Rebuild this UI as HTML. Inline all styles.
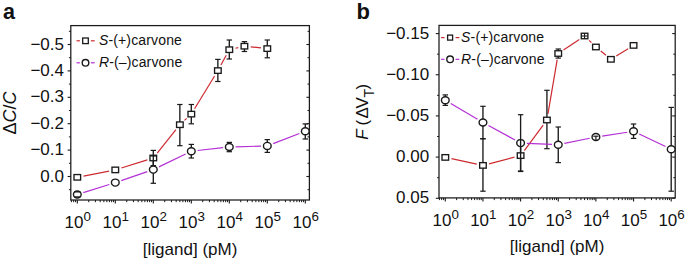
<!DOCTYPE html>
<html><head><meta charset="utf-8"><style>
html,body{margin:0;padding:0;background:#fff;}
svg{display:block;}
text{font-family:"Liberation Sans",sans-serif;fill:#111;}
.tk{font-size:17px;}
.sup{font-size:13.4px;}
.sub{font-size:11.5px;}
.lg{font-size:14px;letter-spacing:0.15px;}
.pl{font-size:22px;font-weight:bold;}
</style></head><body>
<svg width="685" height="259" viewBox="0 0 685 259">
<rect width="685" height="259" fill="#fff"/>
<rect x="70.8" y="25.6" width="238.60" height="174.40" fill="none" stroke="#1a1a1a" stroke-width="1.25"/>
<line x1="68.89999999999999" y1="31.30" x2="70.8" y2="31.30" stroke="#1a1a1a" stroke-width="1"/>
<line x1="309.4" y1="31.30" x2="307.5" y2="31.30" stroke="#1a1a1a" stroke-width="1"/>
<line x1="68.89999999999999" y1="57.70" x2="70.8" y2="57.70" stroke="#1a1a1a" stroke-width="1"/>
<line x1="309.4" y1="57.70" x2="307.5" y2="57.70" stroke="#1a1a1a" stroke-width="1"/>
<line x1="68.89999999999999" y1="84.10" x2="70.8" y2="84.10" stroke="#1a1a1a" stroke-width="1"/>
<line x1="309.4" y1="84.10" x2="307.5" y2="84.10" stroke="#1a1a1a" stroke-width="1"/>
<line x1="68.89999999999999" y1="110.50" x2="70.8" y2="110.50" stroke="#1a1a1a" stroke-width="1"/>
<line x1="309.4" y1="110.50" x2="307.5" y2="110.50" stroke="#1a1a1a" stroke-width="1"/>
<line x1="68.89999999999999" y1="136.90" x2="70.8" y2="136.90" stroke="#1a1a1a" stroke-width="1"/>
<line x1="309.4" y1="136.90" x2="307.5" y2="136.90" stroke="#1a1a1a" stroke-width="1"/>
<line x1="68.89999999999999" y1="163.30" x2="70.8" y2="163.30" stroke="#1a1a1a" stroke-width="1"/>
<line x1="309.4" y1="163.30" x2="307.5" y2="163.30" stroke="#1a1a1a" stroke-width="1"/>
<line x1="68.89999999999999" y1="189.70" x2="70.8" y2="189.70" stroke="#1a1a1a" stroke-width="1"/>
<line x1="309.4" y1="189.70" x2="307.5" y2="189.70" stroke="#1a1a1a" stroke-width="1"/>
<line x1="67.6" y1="44.50" x2="70.8" y2="44.50" stroke="#1a1a1a" stroke-width="1.1"/>
<line x1="309.4" y1="44.50" x2="306.4" y2="44.50" stroke="#1a1a1a" stroke-width="1.1"/>
<text x="64.0" y="49.50" text-anchor="end" class="tk">−0.5</text>
<line x1="67.6" y1="70.90" x2="70.8" y2="70.90" stroke="#1a1a1a" stroke-width="1.1"/>
<line x1="309.4" y1="70.90" x2="306.4" y2="70.90" stroke="#1a1a1a" stroke-width="1.1"/>
<text x="64.0" y="75.90" text-anchor="end" class="tk">−0.4</text>
<line x1="67.6" y1="97.30" x2="70.8" y2="97.30" stroke="#1a1a1a" stroke-width="1.1"/>
<line x1="309.4" y1="97.30" x2="306.4" y2="97.30" stroke="#1a1a1a" stroke-width="1.1"/>
<text x="64.0" y="102.30" text-anchor="end" class="tk">−0.3</text>
<line x1="67.6" y1="123.70" x2="70.8" y2="123.70" stroke="#1a1a1a" stroke-width="1.1"/>
<line x1="309.4" y1="123.70" x2="306.4" y2="123.70" stroke="#1a1a1a" stroke-width="1.1"/>
<text x="64.0" y="128.70" text-anchor="end" class="tk">−0.2</text>
<line x1="67.6" y1="150.10" x2="70.8" y2="150.10" stroke="#1a1a1a" stroke-width="1.1"/>
<line x1="309.4" y1="150.10" x2="306.4" y2="150.10" stroke="#1a1a1a" stroke-width="1.1"/>
<text x="64.0" y="155.10" text-anchor="end" class="tk">−0.1</text>
<line x1="67.6" y1="176.50" x2="70.8" y2="176.50" stroke="#1a1a1a" stroke-width="1.1"/>
<line x1="309.4" y1="176.50" x2="306.4" y2="176.50" stroke="#1a1a1a" stroke-width="1.1"/>
<text x="64.0" y="181.50" text-anchor="end" class="tk">0.0</text>
<line x1="71.41" y1="200.0" x2="71.41" y2="202.2" stroke="#1a1a1a" stroke-width="1"/>
<line x1="73.62" y1="200.0" x2="73.62" y2="202.2" stroke="#1a1a1a" stroke-width="1"/>
<line x1="75.56" y1="200.0" x2="75.56" y2="202.2" stroke="#1a1a1a" stroke-width="1"/>
<line x1="77.30" y1="200.0" x2="77.30" y2="203.6" stroke="#1a1a1a" stroke-width="1.1"/>
<line x1="88.74" y1="200.0" x2="88.74" y2="202.2" stroke="#1a1a1a" stroke-width="1"/>
<line x1="95.43" y1="200.0" x2="95.43" y2="202.2" stroke="#1a1a1a" stroke-width="1"/>
<line x1="100.18" y1="200.0" x2="100.18" y2="202.2" stroke="#1a1a1a" stroke-width="1"/>
<line x1="103.86" y1="200.0" x2="103.86" y2="202.2" stroke="#1a1a1a" stroke-width="1"/>
<line x1="106.87" y1="200.0" x2="106.87" y2="202.2" stroke="#1a1a1a" stroke-width="1"/>
<line x1="109.41" y1="200.0" x2="109.41" y2="202.2" stroke="#1a1a1a" stroke-width="1"/>
<line x1="111.62" y1="200.0" x2="111.62" y2="202.2" stroke="#1a1a1a" stroke-width="1"/>
<line x1="113.56" y1="200.0" x2="113.56" y2="202.2" stroke="#1a1a1a" stroke-width="1"/>
<line x1="115.30" y1="200.0" x2="115.30" y2="203.6" stroke="#1a1a1a" stroke-width="1.1"/>
<line x1="126.74" y1="200.0" x2="126.74" y2="202.2" stroke="#1a1a1a" stroke-width="1"/>
<line x1="133.43" y1="200.0" x2="133.43" y2="202.2" stroke="#1a1a1a" stroke-width="1"/>
<line x1="138.18" y1="200.0" x2="138.18" y2="202.2" stroke="#1a1a1a" stroke-width="1"/>
<line x1="141.86" y1="200.0" x2="141.86" y2="202.2" stroke="#1a1a1a" stroke-width="1"/>
<line x1="144.87" y1="200.0" x2="144.87" y2="202.2" stroke="#1a1a1a" stroke-width="1"/>
<line x1="147.41" y1="200.0" x2="147.41" y2="202.2" stroke="#1a1a1a" stroke-width="1"/>
<line x1="149.62" y1="200.0" x2="149.62" y2="202.2" stroke="#1a1a1a" stroke-width="1"/>
<line x1="151.56" y1="200.0" x2="151.56" y2="202.2" stroke="#1a1a1a" stroke-width="1"/>
<line x1="153.30" y1="200.0" x2="153.30" y2="203.6" stroke="#1a1a1a" stroke-width="1.1"/>
<line x1="164.74" y1="200.0" x2="164.74" y2="202.2" stroke="#1a1a1a" stroke-width="1"/>
<line x1="171.43" y1="200.0" x2="171.43" y2="202.2" stroke="#1a1a1a" stroke-width="1"/>
<line x1="176.18" y1="200.0" x2="176.18" y2="202.2" stroke="#1a1a1a" stroke-width="1"/>
<line x1="179.86" y1="200.0" x2="179.86" y2="202.2" stroke="#1a1a1a" stroke-width="1"/>
<line x1="182.87" y1="200.0" x2="182.87" y2="202.2" stroke="#1a1a1a" stroke-width="1"/>
<line x1="185.41" y1="200.0" x2="185.41" y2="202.2" stroke="#1a1a1a" stroke-width="1"/>
<line x1="187.62" y1="200.0" x2="187.62" y2="202.2" stroke="#1a1a1a" stroke-width="1"/>
<line x1="189.56" y1="200.0" x2="189.56" y2="202.2" stroke="#1a1a1a" stroke-width="1"/>
<line x1="191.30" y1="200.0" x2="191.30" y2="203.6" stroke="#1a1a1a" stroke-width="1.1"/>
<line x1="202.74" y1="200.0" x2="202.74" y2="202.2" stroke="#1a1a1a" stroke-width="1"/>
<line x1="209.43" y1="200.0" x2="209.43" y2="202.2" stroke="#1a1a1a" stroke-width="1"/>
<line x1="214.18" y1="200.0" x2="214.18" y2="202.2" stroke="#1a1a1a" stroke-width="1"/>
<line x1="217.86" y1="200.0" x2="217.86" y2="202.2" stroke="#1a1a1a" stroke-width="1"/>
<line x1="220.87" y1="200.0" x2="220.87" y2="202.2" stroke="#1a1a1a" stroke-width="1"/>
<line x1="223.41" y1="200.0" x2="223.41" y2="202.2" stroke="#1a1a1a" stroke-width="1"/>
<line x1="225.62" y1="200.0" x2="225.62" y2="202.2" stroke="#1a1a1a" stroke-width="1"/>
<line x1="227.56" y1="200.0" x2="227.56" y2="202.2" stroke="#1a1a1a" stroke-width="1"/>
<line x1="229.30" y1="200.0" x2="229.30" y2="203.6" stroke="#1a1a1a" stroke-width="1.1"/>
<line x1="240.74" y1="200.0" x2="240.74" y2="202.2" stroke="#1a1a1a" stroke-width="1"/>
<line x1="247.43" y1="200.0" x2="247.43" y2="202.2" stroke="#1a1a1a" stroke-width="1"/>
<line x1="252.18" y1="200.0" x2="252.18" y2="202.2" stroke="#1a1a1a" stroke-width="1"/>
<line x1="255.86" y1="200.0" x2="255.86" y2="202.2" stroke="#1a1a1a" stroke-width="1"/>
<line x1="258.87" y1="200.0" x2="258.87" y2="202.2" stroke="#1a1a1a" stroke-width="1"/>
<line x1="261.41" y1="200.0" x2="261.41" y2="202.2" stroke="#1a1a1a" stroke-width="1"/>
<line x1="263.62" y1="200.0" x2="263.62" y2="202.2" stroke="#1a1a1a" stroke-width="1"/>
<line x1="265.56" y1="200.0" x2="265.56" y2="202.2" stroke="#1a1a1a" stroke-width="1"/>
<line x1="267.30" y1="200.0" x2="267.30" y2="203.6" stroke="#1a1a1a" stroke-width="1.1"/>
<line x1="278.74" y1="200.0" x2="278.74" y2="202.2" stroke="#1a1a1a" stroke-width="1"/>
<line x1="285.43" y1="200.0" x2="285.43" y2="202.2" stroke="#1a1a1a" stroke-width="1"/>
<line x1="290.18" y1="200.0" x2="290.18" y2="202.2" stroke="#1a1a1a" stroke-width="1"/>
<line x1="293.86" y1="200.0" x2="293.86" y2="202.2" stroke="#1a1a1a" stroke-width="1"/>
<line x1="296.87" y1="200.0" x2="296.87" y2="202.2" stroke="#1a1a1a" stroke-width="1"/>
<line x1="299.41" y1="200.0" x2="299.41" y2="202.2" stroke="#1a1a1a" stroke-width="1"/>
<line x1="301.62" y1="200.0" x2="301.62" y2="202.2" stroke="#1a1a1a" stroke-width="1"/>
<line x1="303.56" y1="200.0" x2="303.56" y2="202.2" stroke="#1a1a1a" stroke-width="1"/>
<line x1="305.30" y1="200.0" x2="305.30" y2="203.6" stroke="#1a1a1a" stroke-width="1.1"/>
<text x="77.70" y="227.8" text-anchor="middle" class="tk">10<tspan dy="-6.8" class="sup">0</tspan></text>
<text x="115.70" y="227.8" text-anchor="middle" class="tk">10<tspan dy="-6.8" class="sup">1</tspan></text>
<text x="153.70" y="227.8" text-anchor="middle" class="tk">10<tspan dy="-6.8" class="sup">2</tspan></text>
<text x="191.70" y="227.8" text-anchor="middle" class="tk">10<tspan dy="-6.8" class="sup">3</tspan></text>
<text x="229.70" y="227.8" text-anchor="middle" class="tk">10<tspan dy="-6.8" class="sup">4</tspan></text>
<text x="267.70" y="227.8" text-anchor="middle" class="tk">10<tspan dy="-6.8" class="sup">5</tspan></text>
<text x="305.70" y="227.8" text-anchor="middle" class="tk">10<tspan dy="-6.8" class="sup">6</tspan></text>
<text x="190.10" y="254.9" text-anchor="middle" class="tk">[ligand] (pM)</text>
<rect x="439.0" y="25.4" width="236.20" height="172.50" fill="none" stroke="#1a1a1a" stroke-width="1.25"/>
<line x1="437.1" y1="54.16" x2="439.0" y2="54.16" stroke="#1a1a1a" stroke-width="1"/>
<line x1="675.2" y1="54.16" x2="673.3000000000001" y2="54.16" stroke="#1a1a1a" stroke-width="1"/>
<line x1="437.1" y1="95.34" x2="439.0" y2="95.34" stroke="#1a1a1a" stroke-width="1"/>
<line x1="675.2" y1="95.34" x2="673.3000000000001" y2="95.34" stroke="#1a1a1a" stroke-width="1"/>
<line x1="437.1" y1="136.51" x2="439.0" y2="136.51" stroke="#1a1a1a" stroke-width="1"/>
<line x1="675.2" y1="136.51" x2="673.3000000000001" y2="136.51" stroke="#1a1a1a" stroke-width="1"/>
<line x1="437.1" y1="177.69" x2="439.0" y2="177.69" stroke="#1a1a1a" stroke-width="1"/>
<line x1="675.2" y1="177.69" x2="673.3000000000001" y2="177.69" stroke="#1a1a1a" stroke-width="1"/>
<line x1="435.8" y1="33.58" x2="439.0" y2="33.58" stroke="#1a1a1a" stroke-width="1.1"/>
<line x1="675.2" y1="33.58" x2="672.2" y2="33.58" stroke="#1a1a1a" stroke-width="1.1"/>
<text x="429.2" y="38.58" text-anchor="end" class="tk">−0.15</text>
<line x1="435.8" y1="74.75" x2="439.0" y2="74.75" stroke="#1a1a1a" stroke-width="1.1"/>
<line x1="675.2" y1="74.75" x2="672.2" y2="74.75" stroke="#1a1a1a" stroke-width="1.1"/>
<text x="429.2" y="79.75" text-anchor="end" class="tk">−0.10</text>
<line x1="435.8" y1="115.92" x2="439.0" y2="115.92" stroke="#1a1a1a" stroke-width="1.1"/>
<line x1="675.2" y1="115.92" x2="672.2" y2="115.92" stroke="#1a1a1a" stroke-width="1.1"/>
<text x="429.2" y="120.92" text-anchor="end" class="tk">−0.05</text>
<line x1="435.8" y1="157.10" x2="439.0" y2="157.10" stroke="#1a1a1a" stroke-width="1.1"/>
<line x1="675.2" y1="157.10" x2="672.2" y2="157.10" stroke="#1a1a1a" stroke-width="1.1"/>
<text x="429.2" y="162.10" text-anchor="end" class="tk">0.00</text>
<line x1="435.8" y1="198.28" x2="439.0" y2="198.28" stroke="#1a1a1a" stroke-width="1.1"/>
<line x1="675.2" y1="198.28" x2="672.2" y2="198.28" stroke="#1a1a1a" stroke-width="1.1"/>
<text x="429.2" y="203.28" text-anchor="end" class="tk">0.05</text>
<line x1="439.47" y1="197.9" x2="439.47" y2="200.1" stroke="#1a1a1a" stroke-width="1"/>
<line x1="441.65" y1="197.9" x2="441.65" y2="200.1" stroke="#1a1a1a" stroke-width="1"/>
<line x1="443.58" y1="197.9" x2="443.58" y2="200.1" stroke="#1a1a1a" stroke-width="1"/>
<line x1="445.30" y1="197.9" x2="445.30" y2="201.5" stroke="#1a1a1a" stroke-width="1.1"/>
<line x1="456.63" y1="197.9" x2="456.63" y2="200.1" stroke="#1a1a1a" stroke-width="1"/>
<line x1="463.26" y1="197.9" x2="463.26" y2="200.1" stroke="#1a1a1a" stroke-width="1"/>
<line x1="467.97" y1="197.9" x2="467.97" y2="200.1" stroke="#1a1a1a" stroke-width="1"/>
<line x1="471.62" y1="197.9" x2="471.62" y2="200.1" stroke="#1a1a1a" stroke-width="1"/>
<line x1="474.60" y1="197.9" x2="474.60" y2="200.1" stroke="#1a1a1a" stroke-width="1"/>
<line x1="477.12" y1="197.9" x2="477.12" y2="200.1" stroke="#1a1a1a" stroke-width="1"/>
<line x1="479.30" y1="197.9" x2="479.30" y2="200.1" stroke="#1a1a1a" stroke-width="1"/>
<line x1="481.23" y1="197.9" x2="481.23" y2="200.1" stroke="#1a1a1a" stroke-width="1"/>
<line x1="482.95" y1="197.9" x2="482.95" y2="201.5" stroke="#1a1a1a" stroke-width="1.1"/>
<line x1="494.28" y1="197.9" x2="494.28" y2="200.1" stroke="#1a1a1a" stroke-width="1"/>
<line x1="500.91" y1="197.9" x2="500.91" y2="200.1" stroke="#1a1a1a" stroke-width="1"/>
<line x1="505.62" y1="197.9" x2="505.62" y2="200.1" stroke="#1a1a1a" stroke-width="1"/>
<line x1="509.27" y1="197.9" x2="509.27" y2="200.1" stroke="#1a1a1a" stroke-width="1"/>
<line x1="512.25" y1="197.9" x2="512.25" y2="200.1" stroke="#1a1a1a" stroke-width="1"/>
<line x1="514.77" y1="197.9" x2="514.77" y2="200.1" stroke="#1a1a1a" stroke-width="1"/>
<line x1="516.95" y1="197.9" x2="516.95" y2="200.1" stroke="#1a1a1a" stroke-width="1"/>
<line x1="518.88" y1="197.9" x2="518.88" y2="200.1" stroke="#1a1a1a" stroke-width="1"/>
<line x1="520.60" y1="197.9" x2="520.60" y2="201.5" stroke="#1a1a1a" stroke-width="1.1"/>
<line x1="531.93" y1="197.9" x2="531.93" y2="200.1" stroke="#1a1a1a" stroke-width="1"/>
<line x1="538.56" y1="197.9" x2="538.56" y2="200.1" stroke="#1a1a1a" stroke-width="1"/>
<line x1="543.27" y1="197.9" x2="543.27" y2="200.1" stroke="#1a1a1a" stroke-width="1"/>
<line x1="546.92" y1="197.9" x2="546.92" y2="200.1" stroke="#1a1a1a" stroke-width="1"/>
<line x1="549.90" y1="197.9" x2="549.90" y2="200.1" stroke="#1a1a1a" stroke-width="1"/>
<line x1="552.42" y1="197.9" x2="552.42" y2="200.1" stroke="#1a1a1a" stroke-width="1"/>
<line x1="554.60" y1="197.9" x2="554.60" y2="200.1" stroke="#1a1a1a" stroke-width="1"/>
<line x1="556.53" y1="197.9" x2="556.53" y2="200.1" stroke="#1a1a1a" stroke-width="1"/>
<line x1="558.25" y1="197.9" x2="558.25" y2="201.5" stroke="#1a1a1a" stroke-width="1.1"/>
<line x1="569.58" y1="197.9" x2="569.58" y2="200.1" stroke="#1a1a1a" stroke-width="1"/>
<line x1="576.21" y1="197.9" x2="576.21" y2="200.1" stroke="#1a1a1a" stroke-width="1"/>
<line x1="580.92" y1="197.9" x2="580.92" y2="200.1" stroke="#1a1a1a" stroke-width="1"/>
<line x1="584.57" y1="197.9" x2="584.57" y2="200.1" stroke="#1a1a1a" stroke-width="1"/>
<line x1="587.55" y1="197.9" x2="587.55" y2="200.1" stroke="#1a1a1a" stroke-width="1"/>
<line x1="590.07" y1="197.9" x2="590.07" y2="200.1" stroke="#1a1a1a" stroke-width="1"/>
<line x1="592.25" y1="197.9" x2="592.25" y2="200.1" stroke="#1a1a1a" stroke-width="1"/>
<line x1="594.18" y1="197.9" x2="594.18" y2="200.1" stroke="#1a1a1a" stroke-width="1"/>
<line x1="595.90" y1="197.9" x2="595.90" y2="201.5" stroke="#1a1a1a" stroke-width="1.1"/>
<line x1="607.23" y1="197.9" x2="607.23" y2="200.1" stroke="#1a1a1a" stroke-width="1"/>
<line x1="613.86" y1="197.9" x2="613.86" y2="200.1" stroke="#1a1a1a" stroke-width="1"/>
<line x1="618.57" y1="197.9" x2="618.57" y2="200.1" stroke="#1a1a1a" stroke-width="1"/>
<line x1="622.22" y1="197.9" x2="622.22" y2="200.1" stroke="#1a1a1a" stroke-width="1"/>
<line x1="625.20" y1="197.9" x2="625.20" y2="200.1" stroke="#1a1a1a" stroke-width="1"/>
<line x1="627.72" y1="197.9" x2="627.72" y2="200.1" stroke="#1a1a1a" stroke-width="1"/>
<line x1="629.90" y1="197.9" x2="629.90" y2="200.1" stroke="#1a1a1a" stroke-width="1"/>
<line x1="631.83" y1="197.9" x2="631.83" y2="200.1" stroke="#1a1a1a" stroke-width="1"/>
<line x1="633.55" y1="197.9" x2="633.55" y2="201.5" stroke="#1a1a1a" stroke-width="1.1"/>
<line x1="644.88" y1="197.9" x2="644.88" y2="200.1" stroke="#1a1a1a" stroke-width="1"/>
<line x1="651.51" y1="197.9" x2="651.51" y2="200.1" stroke="#1a1a1a" stroke-width="1"/>
<line x1="656.22" y1="197.9" x2="656.22" y2="200.1" stroke="#1a1a1a" stroke-width="1"/>
<line x1="659.87" y1="197.9" x2="659.87" y2="200.1" stroke="#1a1a1a" stroke-width="1"/>
<line x1="662.85" y1="197.9" x2="662.85" y2="200.1" stroke="#1a1a1a" stroke-width="1"/>
<line x1="665.37" y1="197.9" x2="665.37" y2="200.1" stroke="#1a1a1a" stroke-width="1"/>
<line x1="667.55" y1="197.9" x2="667.55" y2="200.1" stroke="#1a1a1a" stroke-width="1"/>
<line x1="669.48" y1="197.9" x2="669.48" y2="200.1" stroke="#1a1a1a" stroke-width="1"/>
<line x1="671.20" y1="197.9" x2="671.20" y2="201.5" stroke="#1a1a1a" stroke-width="1.1"/>
<text x="445.70" y="225.6" text-anchor="middle" class="tk">10<tspan dy="-6.8" class="sup">0</tspan></text>
<text x="483.35" y="225.6" text-anchor="middle" class="tk">10<tspan dy="-6.8" class="sup">1</tspan></text>
<text x="521.00" y="225.6" text-anchor="middle" class="tk">10<tspan dy="-6.8" class="sup">2</tspan></text>
<text x="558.65" y="225.6" text-anchor="middle" class="tk">10<tspan dy="-6.8" class="sup">3</tspan></text>
<text x="596.30" y="225.6" text-anchor="middle" class="tk">10<tspan dy="-6.8" class="sup">4</tspan></text>
<text x="633.95" y="225.6" text-anchor="middle" class="tk">10<tspan dy="-6.8" class="sup">5</tspan></text>
<text x="671.60" y="225.6" text-anchor="middle" class="tk">10<tspan dy="-6.8" class="sup">6</tspan></text>
<text x="557.10" y="252.4" text-anchor="middle" class="tk">[ligand] (pM)</text>
<line x1="83.48" y1="176.10" x2="109.12" y2="171.10" stroke="#cc2a30" stroke-width="1.2"/>
<line x1="121.31" y1="168.02" x2="147.29" y2="159.88" stroke="#cc2a30" stroke-width="1.2"/>
<line x1="157.23" y1="153.07" x2="175.93" y2="129.63" stroke="#cc2a30" stroke-width="1.2"/>
<line x1="184.48" y1="120.42" x2="186.68" y2="118.38" stroke="#cc2a30" stroke-width="1.2"/>
<line x1="194.58" y1="108.72" x2="214.58" y2="75.98" stroke="#cc2a30" stroke-width="1.2"/>
<line x1="220.89" y1="65.07" x2="226.28" y2="55.23" stroke="#cc2a30" stroke-width="1.2"/>
<line x1="235.44" y1="48.28" x2="238.28" y2="47.62" stroke="#cc2a30" stroke-width="1.2"/>
<line x1="250.69" y1="46.86" x2="261.03" y2="47.94" stroke="#cc2a30" stroke-width="1.2"/>
<line x1="153.30" y1="150.40" x2="153.30" y2="165.60" stroke="#1a1a1a" stroke-width="1.35"/>
<line x1="150.60" y1="150.40" x2="156.00" y2="150.40" stroke="#1a1a1a" stroke-width="1.2"/>
<line x1="150.60" y1="165.60" x2="156.00" y2="165.60" stroke="#1a1a1a" stroke-width="1.2"/>
<line x1="179.86" y1="104.50" x2="179.86" y2="145.70" stroke="#1a1a1a" stroke-width="1.35"/>
<line x1="177.16" y1="104.50" x2="182.56" y2="104.50" stroke="#1a1a1a" stroke-width="1.2"/>
<line x1="177.16" y1="145.70" x2="182.56" y2="145.70" stroke="#1a1a1a" stroke-width="1.2"/>
<line x1="191.30" y1="104.50" x2="191.30" y2="123.80" stroke="#1a1a1a" stroke-width="1.35"/>
<line x1="188.60" y1="104.50" x2="194.00" y2="104.50" stroke="#1a1a1a" stroke-width="1.2"/>
<line x1="188.60" y1="123.80" x2="194.00" y2="123.80" stroke="#1a1a1a" stroke-width="1.2"/>
<line x1="217.86" y1="59.40" x2="217.86" y2="81.50" stroke="#1a1a1a" stroke-width="1.35"/>
<line x1="215.16" y1="59.40" x2="220.56" y2="59.40" stroke="#1a1a1a" stroke-width="1.2"/>
<line x1="215.16" y1="81.50" x2="220.56" y2="81.50" stroke="#1a1a1a" stroke-width="1.2"/>
<line x1="229.30" y1="40.00" x2="229.30" y2="59.00" stroke="#1a1a1a" stroke-width="1.35"/>
<line x1="226.60" y1="40.00" x2="232.00" y2="40.00" stroke="#1a1a1a" stroke-width="1.2"/>
<line x1="226.60" y1="59.00" x2="232.00" y2="59.00" stroke="#1a1a1a" stroke-width="1.2"/>
<line x1="244.42" y1="41.60" x2="244.42" y2="51.50" stroke="#1a1a1a" stroke-width="1.35"/>
<line x1="241.72" y1="41.60" x2="247.12" y2="41.60" stroke="#1a1a1a" stroke-width="1.2"/>
<line x1="241.72" y1="51.50" x2="247.12" y2="51.50" stroke="#1a1a1a" stroke-width="1.2"/>
<line x1="267.30" y1="40.00" x2="267.30" y2="57.80" stroke="#1a1a1a" stroke-width="1.35"/>
<line x1="264.60" y1="40.00" x2="270.00" y2="40.00" stroke="#1a1a1a" stroke-width="1.2"/>
<line x1="264.60" y1="57.80" x2="270.00" y2="57.80" stroke="#1a1a1a" stroke-width="1.2"/>
<rect x="74.00" y="174.55" width="6.6" height="5.5" fill="#fff" stroke="#1a1a1a" stroke-width="1.35"/>
<rect x="112.00" y="167.15" width="6.6" height="5.5" fill="#fff" stroke="#1a1a1a" stroke-width="1.35"/>
<rect x="150.00" y="155.25" width="6.6" height="5.5" fill="#fff" stroke="#1a1a1a" stroke-width="1.35"/>
<rect x="176.56" y="121.95" width="6.6" height="5.5" fill="#fff" stroke="#1a1a1a" stroke-width="1.35"/>
<rect x="188.00" y="111.35" width="6.6" height="5.5" fill="#fff" stroke="#1a1a1a" stroke-width="1.35"/>
<rect x="214.56" y="67.85" width="6.6" height="5.5" fill="#fff" stroke="#1a1a1a" stroke-width="1.35"/>
<rect x="226.00" y="46.95" width="6.6" height="5.5" fill="#fff" stroke="#1a1a1a" stroke-width="1.35"/>
<rect x="241.12" y="43.45" width="6.6" height="5.5" fill="#fff" stroke="#1a1a1a" stroke-width="1.35"/>
<rect x="264.00" y="45.85" width="6.6" height="5.5" fill="#fff" stroke="#1a1a1a" stroke-width="1.35"/>
<line x1="83.31" y1="192.62" x2="109.29" y2="184.48" stroke="#b430d6" stroke-width="1.2"/>
<line x1="121.26" y1="180.56" x2="147.34" y2="171.64" stroke="#b430d6" stroke-width="1.2"/>
<line x1="158.97" y1="166.85" x2="185.63" y2="153.95" stroke="#b430d6" stroke-width="1.2"/>
<line x1="197.56" y1="150.51" x2="223.04" y2="147.69" stroke="#b430d6" stroke-width="1.2"/>
<line x1="235.60" y1="146.82" x2="261.00" y2="146.08" stroke="#b430d6" stroke-width="1.2"/>
<line x1="273.18" y1="143.64" x2="299.42" y2="133.56" stroke="#b430d6" stroke-width="1.2"/>
<line x1="77.30" y1="191.90" x2="77.30" y2="196.90" stroke="#1a1a1a" stroke-width="1.35"/>
<line x1="74.60" y1="191.90" x2="80.00" y2="191.90" stroke="#1a1a1a" stroke-width="1.2"/>
<line x1="74.60" y1="196.90" x2="80.00" y2="196.90" stroke="#1a1a1a" stroke-width="1.2"/>
<line x1="153.30" y1="156.00" x2="153.30" y2="183.30" stroke="#1a1a1a" stroke-width="1.35"/>
<line x1="150.60" y1="156.00" x2="156.00" y2="156.00" stroke="#1a1a1a" stroke-width="1.2"/>
<line x1="150.60" y1="183.30" x2="156.00" y2="183.30" stroke="#1a1a1a" stroke-width="1.2"/>
<line x1="191.30" y1="144.40" x2="191.30" y2="158.00" stroke="#1a1a1a" stroke-width="1.35"/>
<line x1="188.60" y1="144.40" x2="194.00" y2="144.40" stroke="#1a1a1a" stroke-width="1.2"/>
<line x1="188.60" y1="158.00" x2="194.00" y2="158.00" stroke="#1a1a1a" stroke-width="1.2"/>
<line x1="229.30" y1="142.40" x2="229.30" y2="151.70" stroke="#1a1a1a" stroke-width="1.35"/>
<line x1="226.60" y1="142.40" x2="232.00" y2="142.40" stroke="#1a1a1a" stroke-width="1.2"/>
<line x1="226.60" y1="151.70" x2="232.00" y2="151.70" stroke="#1a1a1a" stroke-width="1.2"/>
<line x1="267.30" y1="139.60" x2="267.30" y2="152.40" stroke="#1a1a1a" stroke-width="1.35"/>
<line x1="264.60" y1="139.60" x2="270.00" y2="139.60" stroke="#1a1a1a" stroke-width="1.2"/>
<line x1="264.60" y1="152.40" x2="270.00" y2="152.40" stroke="#1a1a1a" stroke-width="1.2"/>
<line x1="305.30" y1="123.90" x2="305.30" y2="139.00" stroke="#1a1a1a" stroke-width="1.35"/>
<line x1="302.60" y1="123.90" x2="308.00" y2="123.90" stroke="#1a1a1a" stroke-width="1.2"/>
<line x1="302.60" y1="139.00" x2="308.00" y2="139.00" stroke="#1a1a1a" stroke-width="1.2"/>
<ellipse cx="77.30" cy="194.50" rx="3.85" ry="3.5" fill="#fff" stroke="#1a1a1a" stroke-width="1.4"/>
<ellipse cx="115.30" cy="182.60" rx="3.85" ry="3.5" fill="#fff" stroke="#1a1a1a" stroke-width="1.4"/>
<ellipse cx="153.30" cy="169.60" rx="3.85" ry="3.5" fill="#fff" stroke="#1a1a1a" stroke-width="1.4"/>
<ellipse cx="191.30" cy="151.20" rx="3.85" ry="3.5" fill="#fff" stroke="#1a1a1a" stroke-width="1.4"/>
<ellipse cx="229.30" cy="147.00" rx="3.85" ry="3.5" fill="#fff" stroke="#1a1a1a" stroke-width="1.4"/>
<ellipse cx="267.30" cy="145.90" rx="3.85" ry="3.5" fill="#fff" stroke="#1a1a1a" stroke-width="1.4"/>
<ellipse cx="305.30" cy="131.30" rx="3.85" ry="3.5" fill="#fff" stroke="#1a1a1a" stroke-width="1.4"/>
<line x1="451.46" y1="158.71" x2="476.79" y2="164.09" stroke="#cc2a30" stroke-width="1.2"/>
<line x1="489.05" y1="163.81" x2="514.50" y2="157.19" stroke="#cc2a30" stroke-width="1.2"/>
<line x1="524.34" y1="150.53" x2="543.17" y2="125.07" stroke="#cc2a30" stroke-width="1.2"/>
<line x1="547.97" y1="113.79" x2="557.19" y2="59.71" stroke="#cc2a30" stroke-width="1.2"/>
<line x1="563.50" y1="50.01" x2="579.32" y2="39.49" stroke="#cc2a30" stroke-width="1.2"/>
<line x1="589.09" y1="40.39" x2="591.38" y2="42.61" stroke="#cc2a30" stroke-width="1.2"/>
<line x1="600.77" y1="51.00" x2="606.01" y2="55.30" stroke="#cc2a30" stroke-width="1.2"/>
<line x1="616.25" y1="56.01" x2="628.18" y2="48.69" stroke="#cc2a30" stroke-width="1.2"/>
<line x1="482.95" y1="138.80" x2="482.95" y2="191.20" stroke="#1a1a1a" stroke-width="1.35"/>
<line x1="480.25" y1="138.80" x2="485.65" y2="138.80" stroke="#1a1a1a" stroke-width="1.2"/>
<line x1="480.25" y1="191.20" x2="485.65" y2="191.20" stroke="#1a1a1a" stroke-width="1.2"/>
<line x1="520.60" y1="140.20" x2="520.60" y2="171.00" stroke="#1a1a1a" stroke-width="1.35"/>
<line x1="517.90" y1="140.20" x2="523.30" y2="140.20" stroke="#1a1a1a" stroke-width="1.2"/>
<line x1="517.90" y1="171.00" x2="523.30" y2="171.00" stroke="#1a1a1a" stroke-width="1.2"/>
<line x1="546.92" y1="90.30" x2="546.92" y2="148.70" stroke="#1a1a1a" stroke-width="1.35"/>
<line x1="544.22" y1="90.30" x2="549.62" y2="90.30" stroke="#1a1a1a" stroke-width="1.2"/>
<line x1="544.22" y1="148.70" x2="549.62" y2="148.70" stroke="#1a1a1a" stroke-width="1.2"/>
<line x1="558.25" y1="49.00" x2="558.25" y2="58.10" stroke="#1a1a1a" stroke-width="1.35"/>
<line x1="555.55" y1="49.00" x2="560.95" y2="49.00" stroke="#1a1a1a" stroke-width="1.2"/>
<line x1="555.55" y1="58.10" x2="560.95" y2="58.10" stroke="#1a1a1a" stroke-width="1.2"/>
<line x1="584.57" y1="33.80" x2="584.57" y2="38.20" stroke="#1a1a1a" stroke-width="1.35"/>
<line x1="581.87" y1="33.80" x2="587.27" y2="33.80" stroke="#1a1a1a" stroke-width="1.2"/>
<line x1="581.87" y1="38.20" x2="587.27" y2="38.20" stroke="#1a1a1a" stroke-width="1.2"/>
<rect x="442.00" y="154.65" width="6.6" height="5.5" fill="#fff" stroke="#1a1a1a" stroke-width="1.35"/>
<rect x="479.65" y="162.65" width="6.6" height="5.5" fill="#fff" stroke="#1a1a1a" stroke-width="1.35"/>
<rect x="517.30" y="152.85" width="6.6" height="5.5" fill="#fff" stroke="#1a1a1a" stroke-width="1.35"/>
<rect x="543.62" y="117.25" width="6.6" height="5.5" fill="#fff" stroke="#1a1a1a" stroke-width="1.35"/>
<rect x="554.95" y="50.75" width="6.6" height="5.5" fill="#fff" stroke="#1a1a1a" stroke-width="1.35"/>
<rect x="581.27" y="33.25" width="6.6" height="5.5" fill="#fff" stroke="#1a1a1a" stroke-width="1.35"/>
<rect x="592.60" y="44.25" width="6.6" height="5.5" fill="#fff" stroke="#1a1a1a" stroke-width="1.35"/>
<rect x="607.58" y="56.55" width="6.6" height="5.5" fill="#fff" stroke="#1a1a1a" stroke-width="1.35"/>
<rect x="630.25" y="42.65" width="6.6" height="5.5" fill="#fff" stroke="#1a1a1a" stroke-width="1.35"/>
<line x1="450.73" y1="103.50" x2="477.52" y2="119.30" stroke="#b430d6" stroke-width="1.2"/>
<line x1="488.48" y1="125.52" x2="515.07" y2="140.08" stroke="#b430d6" stroke-width="1.2"/>
<line x1="526.89" y1="143.37" x2="551.96" y2="144.43" stroke="#b430d6" stroke-width="1.2"/>
<line x1="564.42" y1="143.44" x2="589.73" y2="138.26" stroke="#b430d6" stroke-width="1.2"/>
<line x1="602.13" y1="136.06" x2="627.32" y2="132.24" stroke="#b430d6" stroke-width="1.2"/>
<line x1="639.24" y1="134.01" x2="665.51" y2="146.49" stroke="#b430d6" stroke-width="1.2"/>
<line x1="445.30" y1="94.90" x2="445.30" y2="105.40" stroke="#1a1a1a" stroke-width="1.35"/>
<line x1="442.60" y1="94.90" x2="448.00" y2="94.90" stroke="#1a1a1a" stroke-width="1.2"/>
<line x1="442.60" y1="105.40" x2="448.00" y2="105.40" stroke="#1a1a1a" stroke-width="1.2"/>
<line x1="482.95" y1="106.30" x2="482.95" y2="138.70" stroke="#1a1a1a" stroke-width="1.35"/>
<line x1="480.25" y1="106.30" x2="485.65" y2="106.30" stroke="#1a1a1a" stroke-width="1.2"/>
<line x1="480.25" y1="138.70" x2="485.65" y2="138.70" stroke="#1a1a1a" stroke-width="1.2"/>
<line x1="520.60" y1="114.70" x2="520.60" y2="171.50" stroke="#1a1a1a" stroke-width="1.35"/>
<line x1="517.90" y1="114.70" x2="523.30" y2="114.70" stroke="#1a1a1a" stroke-width="1.2"/>
<line x1="517.90" y1="171.50" x2="523.30" y2="171.50" stroke="#1a1a1a" stroke-width="1.2"/>
<line x1="558.25" y1="127.00" x2="558.25" y2="162.60" stroke="#1a1a1a" stroke-width="1.35"/>
<line x1="555.55" y1="127.00" x2="560.95" y2="127.00" stroke="#1a1a1a" stroke-width="1.2"/>
<line x1="555.55" y1="162.60" x2="560.95" y2="162.60" stroke="#1a1a1a" stroke-width="1.2"/>
<line x1="595.90" y1="134.70" x2="595.90" y2="139.40" stroke="#1a1a1a" stroke-width="1.35"/>
<line x1="593.20" y1="134.70" x2="598.60" y2="134.70" stroke="#1a1a1a" stroke-width="1.2"/>
<line x1="593.20" y1="139.40" x2="598.60" y2="139.40" stroke="#1a1a1a" stroke-width="1.2"/>
<line x1="633.55" y1="124.00" x2="633.55" y2="138.40" stroke="#1a1a1a" stroke-width="1.35"/>
<line x1="630.85" y1="124.00" x2="636.25" y2="124.00" stroke="#1a1a1a" stroke-width="1.2"/>
<line x1="630.85" y1="138.40" x2="636.25" y2="138.40" stroke="#1a1a1a" stroke-width="1.2"/>
<line x1="671.20" y1="107.40" x2="671.20" y2="191.20" stroke="#1a1a1a" stroke-width="1.35"/>
<line x1="668.50" y1="107.40" x2="673.90" y2="107.40" stroke="#1a1a1a" stroke-width="1.2"/>
<line x1="668.50" y1="191.20" x2="673.90" y2="191.20" stroke="#1a1a1a" stroke-width="1.2"/>
<ellipse cx="445.30" cy="100.30" rx="3.85" ry="3.5" fill="#fff" stroke="#1a1a1a" stroke-width="1.4"/>
<ellipse cx="482.95" cy="122.50" rx="3.85" ry="3.5" fill="#fff" stroke="#1a1a1a" stroke-width="1.4"/>
<ellipse cx="520.60" cy="143.10" rx="3.85" ry="3.5" fill="#fff" stroke="#1a1a1a" stroke-width="1.4"/>
<ellipse cx="558.25" cy="144.70" rx="3.85" ry="3.5" fill="#fff" stroke="#1a1a1a" stroke-width="1.4"/>
<ellipse cx="595.90" cy="137.00" rx="3.85" ry="3.5" fill="#fff" stroke="#1a1a1a" stroke-width="1.4"/>
<ellipse cx="633.55" cy="131.30" rx="3.85" ry="3.5" fill="#fff" stroke="#1a1a1a" stroke-width="1.4"/>
<ellipse cx="671.20" cy="149.20" rx="3.85" ry="3.5" fill="#fff" stroke="#1a1a1a" stroke-width="1.4"/>
<line x1="74.00" y1="191.90" x2="80.60" y2="191.90" stroke="#1a1a1a" stroke-width="1.2"/>
<line x1="74.00" y1="196.90" x2="80.60" y2="196.90" stroke="#1a1a1a" stroke-width="1.2"/>
<line x1="581.57" y1="36.00" x2="587.57" y2="36.00" stroke="#1a1a1a" stroke-width="1.1"/>
<line x1="584.57" y1="32.90" x2="584.57" y2="39.10" stroke="#1a1a1a" stroke-width="1.1"/>
<line x1="520.60" y1="139.30" x2="520.60" y2="147.00" stroke="#1a1a1a" stroke-width="1.35"/>
<line x1="593.30" y1="136.20" x2="598.50" y2="136.20" stroke="#1a1a1a" stroke-width="1.2"/>
<line x1="595.90" y1="136.20" x2="595.90" y2="140.60" stroke="#1a1a1a" stroke-width="1.2"/>
<line x1="76.5" y1="40.8" x2="79.9" y2="40.8" stroke="#cc2a30" stroke-width="1.2"/>
<line x1="90.9" y1="40.8" x2="94.7" y2="40.8" stroke="#cc2a30" stroke-width="1.2"/>
<rect x="82.70" y="38.00" width="5.6" height="5.6" fill="#fff" stroke="#1a1a1a" stroke-width="1.3"/>
<text x="98.9" y="45.3" class="lg"><tspan font-style="italic">S</tspan>-(+)carvone</text>
<line x1="76.5" y1="62.8" x2="79.9" y2="62.8" stroke="#b430d6" stroke-width="1.2"/>
<line x1="90.9" y1="62.8" x2="94.7" y2="62.8" stroke="#b430d6" stroke-width="1.2"/>
<circle cx="85.50" cy="62.80" r="3.3" fill="#fff" stroke="#1a1a1a" stroke-width="1.4"/>
<text x="98.9" y="67.3" class="lg"><tspan font-style="italic">R</tspan>-(–)carvone</text>
<line x1="441.1" y1="37.6" x2="444.5" y2="37.6" stroke="#cc2a30" stroke-width="1.2"/>
<line x1="455.5" y1="37.6" x2="459.3" y2="37.6" stroke="#cc2a30" stroke-width="1.2"/>
<rect x="447.60" y="35.10" width="5.0" height="5.0" fill="#fff" stroke="#1a1a1a" stroke-width="1.3"/>
<text x="461.1" y="42.1" class="lg"><tspan font-style="italic">S</tspan>-(+)carvone</text>
<line x1="441.1" y1="59.3" x2="444.5" y2="59.3" stroke="#b430d6" stroke-width="1.2"/>
<line x1="455.5" y1="59.3" x2="459.3" y2="59.3" stroke="#b430d6" stroke-width="1.2"/>
<circle cx="450.10" cy="59.30" r="3.3" fill="#fff" stroke="#1a1a1a" stroke-width="1.4"/>
<text x="461.1" y="63.8" class="lg"><tspan font-style="italic">R</tspan>-(–)carvone</text>
<text transform="translate(15.8,113.0) rotate(-90)" text-anchor="middle" style="font-size:18px">Δ<tspan font-style="italic">C</tspan>/<tspan font-style="italic">C</tspan></text>
<g transform="translate(368.2,139.0) rotate(-90)" style="font-size:17px"><text x="-0.8" y="0" font-style="italic">F</text><text x="13.6" y="0">(</text><text x="20.4" y="0">Δ</text><text x="30.6" y="0">V</text><text x="41.4" y="6.2" style="font-size:14.2px">T</text><text x="49.6" y="0">)</text></g>
<text x="3.1" y="18.5" style="font-size:21.5px" class="pl">a</text>
<text x="356.6" y="18.6" class="pl">b</text>
</svg>
</body></html>
